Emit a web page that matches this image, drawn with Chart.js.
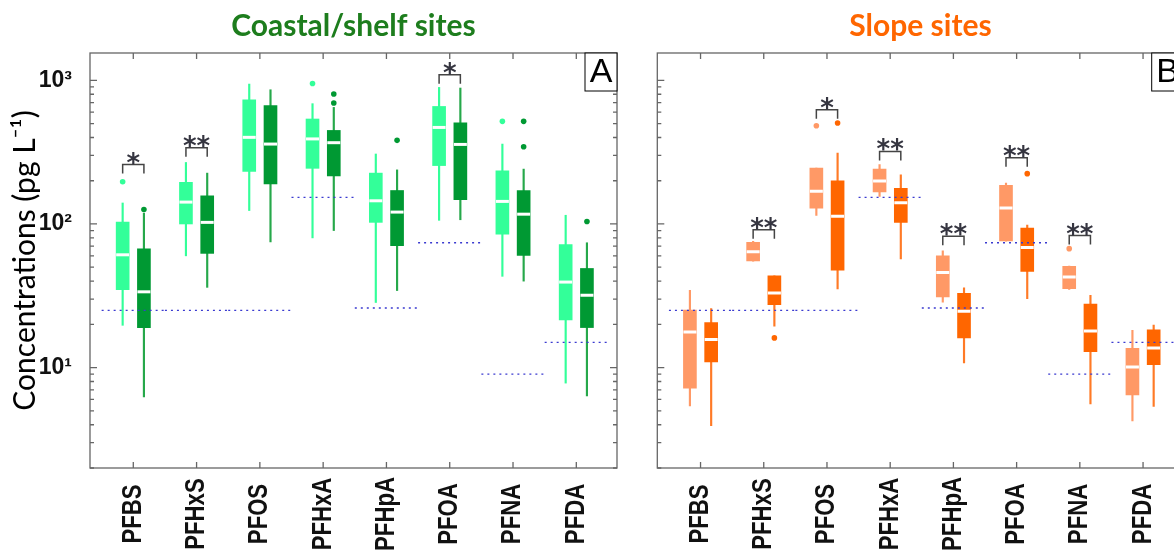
<!DOCTYPE html>
<html>
<head>
<meta charset="utf-8">
<script src="https://cdn.jsdelivr.net/npm/chart.js@4/dist/chart.umd.min.js"></script>
<style>
    body { margin: 0; width: 1174px; height: 551px; overflow: hidden; background: #fff; position: relative; }
    #coastalWrap { position: absolute; left: 0; top: 0; }
    #slopeWrap { position: absolute; left: 640px; top: 0; }
</style>
</head>
<body>
<div id="coastalWrap"><canvas id="coastalChart" width="640" height="551"></canvas></div>
<div id="slopeWrap"><canvas id="slopeChart" width="560" height="551"></canvas></div>
<script>
const compounds = ['PFBS', 'PFHxS', 'PFOS', 'PFHxA', 'PFHpA', 'PFOA', 'PFNA', 'PFDA'];
// detection limits (pg/L), the blue dotted lines
const lodValues = [25, 25, 25, 153, 26, 74, 9, 15];

// rows: [lower whisker, q1, median, q3, upper whisker]
const coastalFirst = [
    [19.7, 34.9, 61, 103, 140],
    [60, 100, 142, 195, 268],
    [124, 232, 401, 733, 942],
    [80, 244, 391, 538, 688],
    [28.4, 102.6, 145, 226, 307],
    [106, 255, 470, 658, 893],
    [43.2, 85, 143.6, 234, 360],
    [7.8, 21.5, 39.4, 72, 115]
];
const coastalSecond = [
    [6.25, 19, 33.7, 67, 119],
    [36.2, 62.4, 102.6, 157, 226],
    [75, 190, 360, 668, 860],
    [90, 216, 368, 448, 648],
    [34.4, 70.6, 121, 171, 238],
    [107, 147.5, 358, 507, 884],
    [40, 60.4, 117, 171, 241],
    [6.35, 19, 31.9, 49, 74]
];
const slopeFirst = [
    [5.4, 7.2, 17.7, 25.1, 34.5],
    [55, 55.3, 64.1, 74.5, 75.7],
    [114.7, 129, 169, 245, 245],
    [155.6, 167, 199, 241, 259],
    [28.6, 31, 46, 59.9, 64.9],
    [76, 76.2, 129, 186, 193],
    [35, 35.5, 42.8, 50.7, 51],
    [4.25, 6.45, 10.1, 13.6, 18.2]
];
const slopeSecond = [
    [3.94, 10.96, 15.7, 20.6, 25.8],
    [19.4, 27.4, 33.1, 43.5, 43.5],
    [35.3, 47.6, 113, 200, 312],
    [57, 102.6, 140.7, 177, 220],
    [10.8, 16.1, 24.7, 32.9, 35.9],
    [30.2, 46.8, 68.7, 93.8, 98.4],
    [5.58, 12.9, 18, 27.7, 31.9],
    [5.36, 10.5, 13.7, 18.3, 19.8]
];

// outliers: [compound index, value]
const coastalFirstOut = [[0, 197], [3, 951], [6, 518]];
const coastalSecondOut = [[0, 126], [3, 804], [3, 695], [4, 382], [6, 518], [6, 345], [7, 104]];
const slopeFirstOut = [[2, 483], [6, 67.3]];
const slopeSecondOut = [[1, 16.1], [2, 505], [5, 224]];

// significance brackets: [compound index, bracket height, label]
const coastalSig = [[0, 259, '*'], [1, 340, '**'], [5, 1095, '*']];
const slopeSig = [[1, 91, '**'], [2, 624, '*'], [3, 320, '**'], [4, 82, '**'], [5, 289, '**'], [6, 83, '**']];

const yTickValues = [10, 100, 1000];
const yTickLabels = ['10¹', '10²', '10³'];

const SHIFT = 0.168; // half distance between the paired boxes

function boxDatasets(rows, outliers, shift, boxColor, whiskerColor) {
    const pos = i => i + 1 + shift;
    return [
        {
            type: 'bar', order: 3, grouped: false, barThickness: 1.5,
            data: rows.map((r, i) => ({ x: pos(i), y: [r[0], r[4]] })),
            backgroundColor: whiskerColor
        },
        {
            type: 'bar', order: 2, grouped: false, barThickness: 13,
            data: rows.map((r, i) => ({ x: pos(i), y: [r[1], r[3]] })),
            backgroundColor: boxColor
        },
        {
            type: 'scatter', order: 1,
            data: rows.map((r, i) => ({ x: pos(i), y: r[2] })),
            pointStyle: 'line', pointRadius: 6.5, pointBorderWidth: 3, pointBorderColor: '#fff'
        },
        {
            type: 'scatter', order: 1,
            data: outliers.map(o => ({ x: pos(o[0]), y: o[1] })),
            pointRadius: 2.8, pointBackgroundColor: boxColor, pointBorderWidth: 0
        }
    ];
}

function lodDataset() {
    const pts = [];
    lodValues.forEach((v, i) => {
        pts.push({ x: i + 0.5, y: v }, { x: i + 1.5, y: v }, { x: i + 1.5, y: null });
    });
    return {
        type: 'line', order: 0, data: pts, spanGaps: false, fill: false,
        borderColor: '#3a3ad0', borderWidth: 1.3, borderDash: [2, 4], pointRadius: 0
    };
}

// frame, inward ticks, rotated compound names, brackets and panel letter
const panelDecor = {
    id: 'panelDecor',
    afterDatasetsDraw(chart, args, opts) {
        const { ctx, chartArea: a, scales: { x, y } } = chart;
        ctx.save();

        // significance brackets
        ctx.strokeStyle = '#444';
        ctx.lineWidth = 1.5;
        ctx.fillStyle = '#353540';
        ctx.font = 'bold 26px "DejaVu Sans"';
        ctx.textAlign = 'center';
        ctx.textBaseline = 'alphabetic';
        opts.sig.forEach(s => {
            const xl = x.getPixelForValue(s[0] + 1 - SHIFT);
            const xr = x.getPixelForValue(s[0] + 1 + SHIFT);
            const yt = y.getPixelForValue(s[1]);
            ctx.beginPath();
            ctx.moveTo(xl, yt + 9);
            ctx.lineTo(xl, yt);
            ctx.lineTo(xr, yt);
            ctx.lineTo(xr, yt + 9);
            ctx.stroke();
            ctx.fillText(s[2], (xl + xr) / 2, yt + 7);
        });

        // axes box
        ctx.strokeStyle = '#666';
        ctx.lineWidth = 1.3;
        ctx.strokeRect(a.left, a.top, a.right - a.left, a.bottom - a.top);
        ctx.beginPath();
        compounds.forEach((c, i) => {
            const px = x.getPixelForValue(i + 1);
            ctx.moveTo(px, a.top); ctx.lineTo(px, a.top + 6);
            ctx.moveTo(px, a.bottom); ctx.lineTo(px, a.bottom - 6);
        });
        for (let k = 0; k < 4; k++) {
            for (let m = 1; m <= 9; m++) {
                const v = m * Math.pow(10, k);
                if (v < y.min || v > y.max) continue;
                const py = y.getPixelForValue(v);
                const len = m === 1 ? 7 : 4;
                ctx.moveTo(a.left, py); ctx.lineTo(a.left + len, py);
                ctx.moveTo(a.right, py); ctx.lineTo(a.right - len, py);
            }
        }
        ctx.stroke();

        // compound names, rotated and centred under each tick
        ctx.fillStyle = '#111';
        ctx.font = 'bold 27px "Liberation Sans", Arial, sans-serif';
        ctx.textAlign = 'center';
        ctx.textBaseline = 'middle';
        compounds.forEach((c, i) => {
            ctx.save();
            ctx.translate(x.getPixelForValue(i + 1), a.bottom + 46);
            ctx.rotate(-Math.PI / 2);
            ctx.scale(0.82, 1);
            ctx.fillText(c, 0, 0);
            ctx.restore();
        });

        // panel letter
        ctx.fillStyle = '#fff';
        ctx.fillRect(a.right - 32, a.top, 32, 38);
        ctx.strokeStyle = '#000';
        ctx.lineWidth = 1;
        ctx.strokeRect(a.right - 32, a.top, 32, 38);
        ctx.fillStyle = '#000';
        ctx.font = '34px "Liberation Sans", Arial, sans-serif';
        ctx.fillText(opts.letter, a.right - 16, a.top + 20);

        ctx.restore();
    }
};

function makePanel(canvasId, cfg) {
    const ctx = document.getElementById(canvasId).getContext('2d');
    return new Chart(ctx, {
        type: 'bar',
        data: {
            datasets: [
                lodDataset(),
                ...boxDatasets(cfg.first, cfg.firstOut, -SHIFT, cfg.light, cfg.light),
                ...boxDatasets(cfg.second, cfg.secondOut, SHIFT, cfg.dark, cfg.darkWhisker)
            ]
        },
        options: {
            responsive: false,
            animation: false,
            events: [],
            layout: { padding: { left: 0, right: cfg.padRight, top: 0, bottom: 0 } },
            scales: {
                x: {
                    type: 'linear', min: 0.316, max: 8.643, offset: false,
                    grid: { display: false, drawTicks: false }, border: { display: false },
                    ticks: { display: false },
                    afterFit: function (scale) { scale.height = 83; }
                },
                y: {
                    type: 'logarithmic', min: 2, max: 1550,
                    grid: { display: false, drawTicks: false }, border: { display: false },
                    afterBuildTicks: function (scale) {
                        scale.ticks = yTickValues.map(v => ({ value: v }));
                    },
                    ticks: {
                        display: cfg.showY, padding: 18, color: '#111',
                        font: { family: '"Liberation Sans", Arial, sans-serif', size: 23, weight: 'bold' },
                        callback: function (value) { return yTickLabels[yTickValues.indexOf(value)]; }
                    },
                    title: {
                        display: cfg.showY, text: 'Concentrations (pg L⁻¹)', color: '#000',
                        font: { family: 'Lato', size: 30 }, padding: { top: 7, bottom: 0 }
                    },
                    afterFit: function (scale) { scale.width = cfg.yWidth; }
                }
            },
            plugins: {
                legend: { display: false },
                tooltip: { enabled: false },
                title: {
                    display: true, text: cfg.title, color: cfg.titleColor, fullSize: false,
                    font: { family: 'Lato', size: 30, weight: 'bold', lineHeight: 1.2 },
                    padding: { top: 8, bottom: 9 }
                },
                panelDecor: { sig: cfg.sig, letter: cfg.letter }
            }
        },
        plugins: [panelDecor]
    });
}

makePanel('coastalChart', {
    title: 'Coastal/shelf sites', titleColor: '#1d7d1d', letter: 'A',
    first: coastalFirst, second: coastalSecond,
    firstOut: coastalFirstOut, secondOut: coastalSecondOut, sig: coastalSig,
    light: '#33ff99', dark: '#009933', darkWhisker: '#26a84a',
    showY: true, yWidth: 90, padRight: 23
});

makePanel('slopeChart', {
    title: 'Slope sites', titleColor: '#ff6600', letter: 'B',
    first: slopeFirst, second: slopeSecond,
    firstOut: slopeFirstOut, secondOut: slopeSecondOut, sig: slopeSig,
    light: '#ff9966', dark: '#ff6600', darkWhisker: '#ff7a26',
    showY: false, yWidth: 17.3, padRight: 16.3
});
</script>
</body>
</html>
